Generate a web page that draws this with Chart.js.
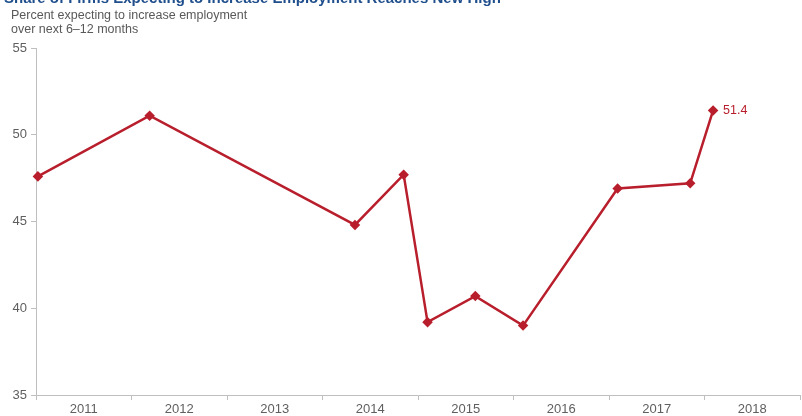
<!DOCTYPE html>
<html>
<head>
<meta charset="utf-8">
<script src="https://cdn.jsdelivr.net/npm/chart.js@4"></script>
<style>
    html, body { margin: 0; padding: 0; background: #fff; overflow: hidden; }
    #wrap { position: relative; width: 802px; height: 416px; }
    #title { position: absolute; left: 4px; top: -11px; font: bold 15px "Liberation Sans", Arial, sans-serif; color: #1f4e8c; white-space: nowrap; }
    #sub { position: absolute; left: 11px; top: 8px; font: 12.5px/14px "Liberation Sans", Arial, sans-serif; color: #595959; }
    canvas { position: absolute; left: 0; top: 0; }
</style>
</head>
<body>
<div id="wrap">
    <canvas id="employmentChart" width="802" height="416"></canvas>
    <div id="title">Share of Firms Expecting to Increase Employment Reaches New High</div>
    <div id="sub">Percent expecting to increase employment<br>over next 6–12 months</div>
</div>
<script>
    // Survey dates as decimal years, and share of firms (%)
    const surveyDates = [2011.02, 2012.19, 2014.34, 2014.85, 2015.10, 2015.60, 2016.10, 2017.09, 2017.85, 2018.09];
    const shareValues = [47.6, 51.1, 44.8, 47.7, 39.2, 40.7, 39.0, 46.9, 47.2, 51.4];
    const yearLabels = ['2011', '2012', '2013', '2014', '2015', '2016', '2017', '2018'];

    const red = '#b81e2c';
    const axisGrey = '#bfbfbf';
    const textGrey = '#5f5f5f';

    // Label on the latest reading
    const lastLabel = {
        id: 'lastLabel',
        afterDatasetsDraw(chart) {
            const meta = chart.getDatasetMeta(0);
            const pt = meta.data[meta.data.length - 1];
            const ctx = chart.ctx;
            ctx.save();
            ctx.fillStyle = red;
            ctx.font = '12.5px "Liberation Sans", Arial, sans-serif';
            ctx.textBaseline = 'middle';
            ctx.fillText(shareValues[shareValues.length - 1].toFixed(1), pt.x + 10, pt.y);
            ctx.restore();
        }
    };

    new Chart(document.getElementById('employmentChart'), {
        type: 'line',
        data: {
            datasets: [{
                data: surveyDates.map((d, i) => ({ x: d, y: shareValues[i] })),
                borderColor: red,
                backgroundColor: red,
                borderWidth: 2.5,
                pointStyle: 'rectRot',
                pointRadius: 3.5,
                tension: 0,
                clip: false
            }]
        },
        options: {
            responsive: false,
            animation: false,
            layout: { autoPadding: false, padding: { top: 48, right: 2, left: 0, bottom: 0 } },
            plugins: {
                legend: { display: false },
                tooltip: { enabled: false }
            },
            scales: {
                x: {
                    type: 'linear',
                    min: 2011,
                    max: 2019,
                    afterFit: (scale) => { scale.height = 21; },
                    border: { color: axisGrey },
                    grid: {
                        drawOnChartArea: false,
                        tickLength: 5,
                        color: (c) => Number.isInteger(c.tick.value) ? axisGrey : 'rgba(0,0,0,0)'
                    },
                    ticks: {
                        stepSize: 0.5,
                        autoSkip: false,
                        maxRotation: 0,
                        padding: 2,
                        color: textGrey,
                        font: { family: '"Liberation Sans", Arial, sans-serif', size: 13 },
                        callback: (v) => Number.isInteger(v) ? '' : yearLabels[Math.floor(v) - 2011]
                    }
                },
                y: {
                    min: 35,
                    max: 55,
                    afterFit: (scale) => { scale.width = 36; },
                    border: { color: axisGrey },
                    grid: { drawOnChartArea: false, tickLength: 5, color: axisGrey },
                    ticks: {
                        stepSize: 5,
                        padding: 4,
                        color: textGrey,
                        font: { family: '"Liberation Sans", Arial, sans-serif', size: 13 }
                    }
                }
            }
        },
        plugins: [lastLabel]
    });
</script>
</body>
</html>
